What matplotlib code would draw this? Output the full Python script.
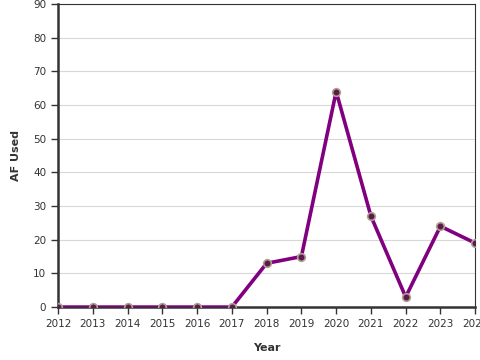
import matplotlib
matplotlib.use("Agg")
import matplotlib.pyplot as plt

years = [2012, 2013, 2014, 2015, 2016, 2017, 2018, 2019, 2020, 2021, 2022, 2023, 2024]
af_used = [0, 0, 0, 0, 0, 0, 13, 15, 64, 27, 3, 24, 19]

fig = plt.figure(figsize=(4.8, 3.6), dpi=100)
ax = fig.add_axes([0.121, 0.147, 0.869, 0.842])

ax.plot(years, af_used, color="#800080", linewidth=2.6, zorder=3,
        marker="o", markersize=5.5, markerfacecolor="#5a1a4a",
        markeredgecolor="#b0a090", markeredgewidth=1.2)

ax.set_xlim(2012, 2024)
ax.set_ylim(0, 90)
ax.set_xticks(years)
ax.set_yticks(range(0, 91, 10))
ax.grid(axis="y", color="#d8d8d8", linewidth=0.8)
ax.set_axisbelow(True)

for side in ["left", "bottom"]:
    ax.spines[side].set_linewidth(1.8)
    ax.spines[side].set_color("#333333")
for side in ["top", "right"]:
    ax.spines[side].set_linewidth(0.8)
    ax.spines[side].set_color("#333333")

ax.tick_params(labelsize=7.5, colors="#333333", length=5, width=1)
ax.set_xlabel("Year", fontsize=8, fontweight="bold", color="#333333", labelpad=10)
ax.set_ylabel("AF Used", fontsize=8, fontweight="bold", color="#333333", labelpad=9)

fig.savefig("out.png", dpi=100)
